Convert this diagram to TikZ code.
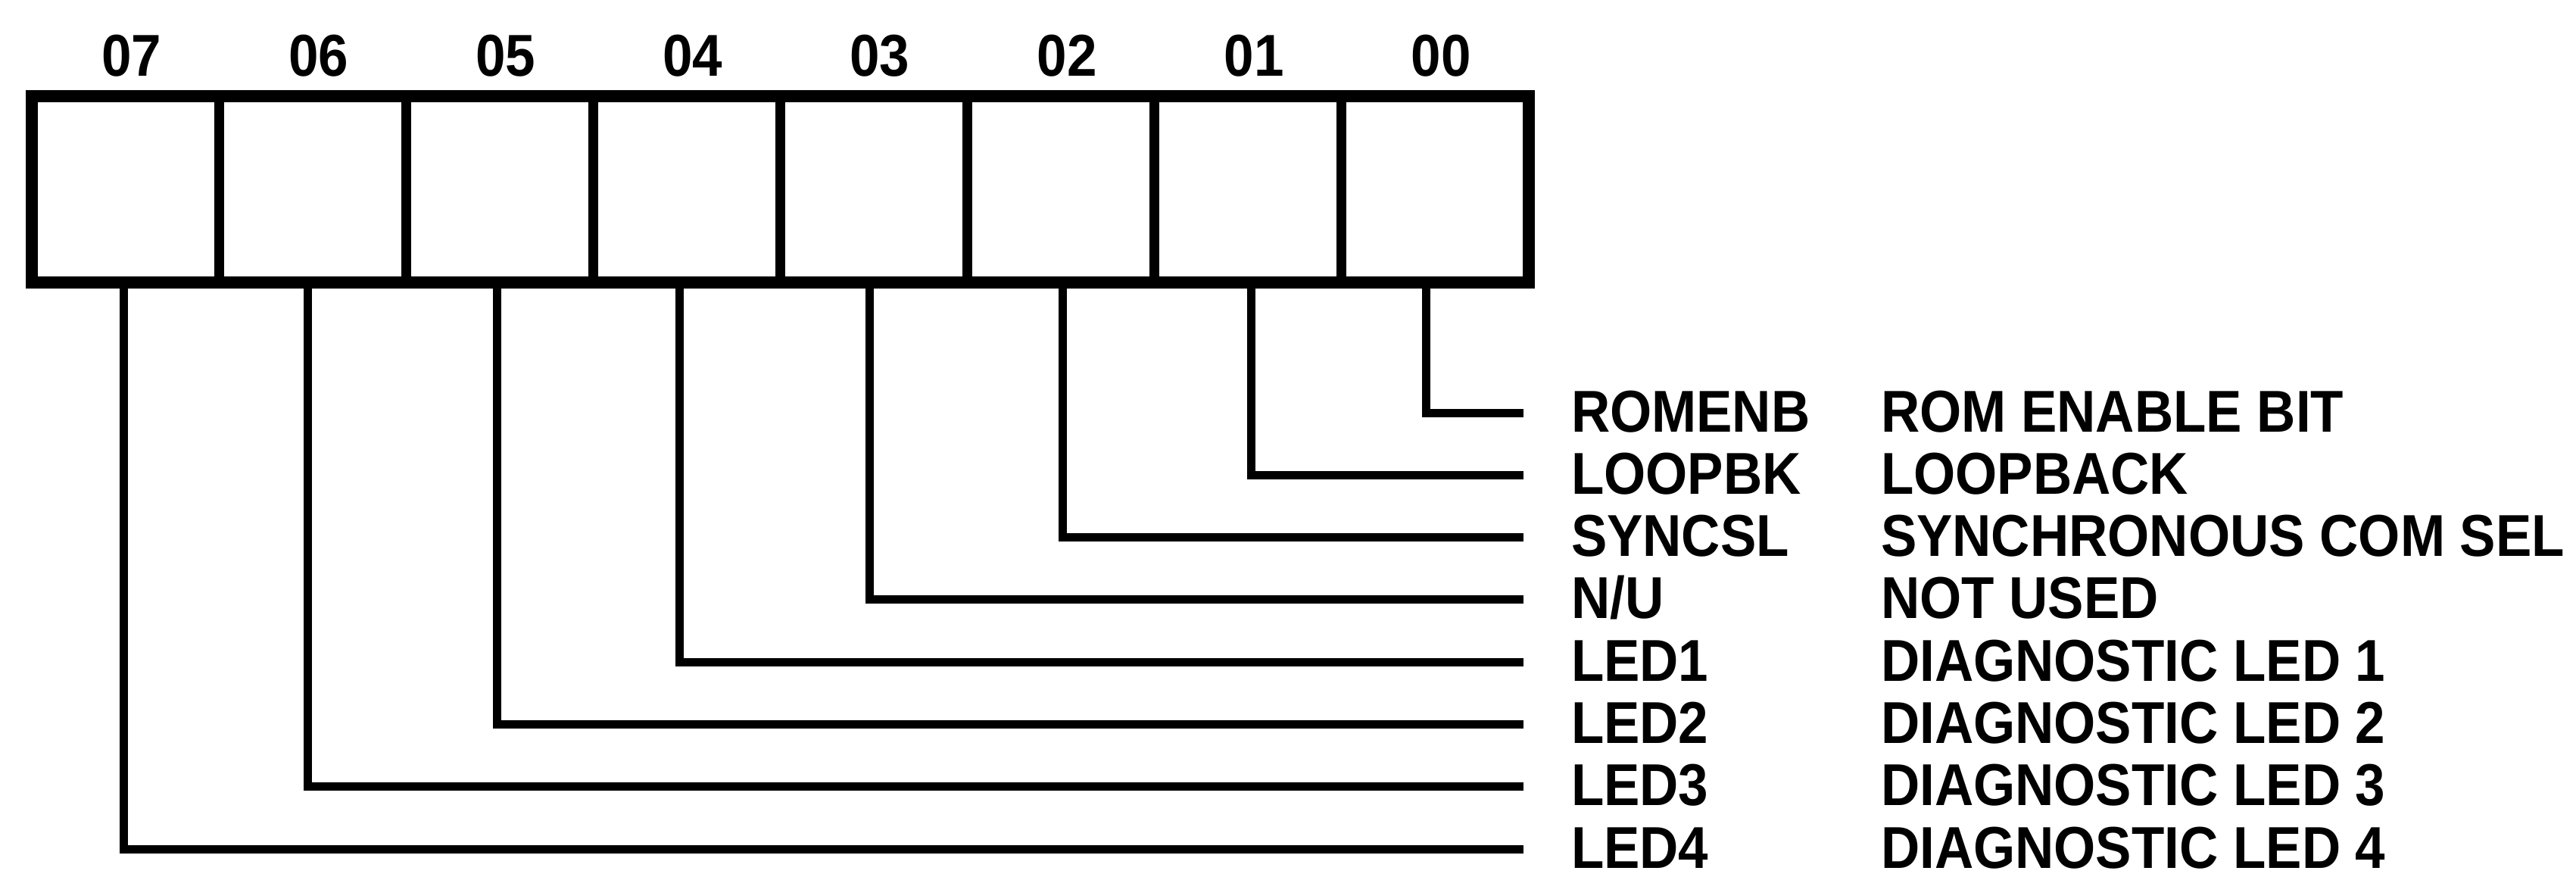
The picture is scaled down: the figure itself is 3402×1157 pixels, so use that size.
\documentclass[tikz,border=0pt]{standalone}
\usepackage{fontspec}
\usepackage{graphicx}
\setmainfont{Liberation Sans}
\newcommand\condtxt[1]{\scalebox{0.91}[1]{#1}}
\begin{document}
\begin{tikzpicture}[x=1pt,y=-1pt,
  lbl/.style={font=\fontsize{78}{86}\selectfont\bfseries, inner sep=0pt, outer sep=0pt},
  cell/.style={draw, line width=13pt, minimum width=247.1pt, minimum height=246pt, inner sep=0pt, outer sep=0pt},
  frame/.style={draw, line width=16pt},
  wire/.style={line width=11pt, line join=miter}]
\useasboundingbox (0,0) rectangle (3402,1157);
% register cells and bit numbers
\foreach \b [count=\i from 0] in {7,6,5,4,3,2,1,0} {
  \node[cell] (c\b) at ({42+247.1*(\i+0.5)}, 250) {};
  \node[lbl, anchor=base] (n\b) at ({42+247.1*(\i+0.5)+8}, 100) {\condtxt{0\b}};
}
\draw[frame] (c7.north west) rectangle (c0.south east);
% field names, descriptions and connectors
\foreach \b/\dx/\m/\d in {
  0/1883/ROMENB/ROM ENABLE BIT,
  1/1652/LOOPBK/LOOPBACK,
  2/1403/SYNCSL/SYNCHRONOUS COM SEL,
  3/1148/{N/U}/NOT USED,
  4/897/LED1/DIAGNOSTIC LED 1,
  5/656/LED2/DIAGNOSTIC LED 2,
  6/406/LED3/DIAGNOSTIC LED 3,
  7/163/LED4/DIAGNOSTIC LED 4} {
  \node[lbl, anchor=base west] (m\b) at (2075, {545+82.3*\b+25}) {\condtxt{\m}};
  \node[lbl, anchor=base west] (t\b) at (2484, {545+82.3*\b+25}) {\condtxt{\d}};
  \coordinate (s\b) at (\dx, 373);
  \coordinate (e\b) at (2012, {545+82.3*\b});
  \draw[wire] (s\b) |- (e\b);
}
\end{tikzpicture}
\end{document}
